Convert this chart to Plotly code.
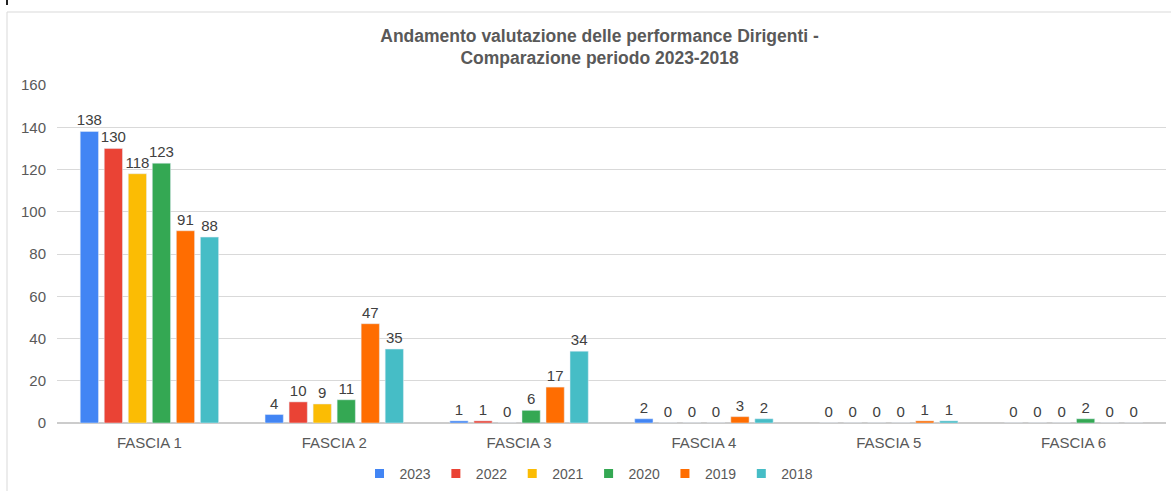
import plotly.graph_objects as go

categories = ["FASCIA 1", "FASCIA 2", "FASCIA 3", "FASCIA 4", "FASCIA 5", "FASCIA 6"]
years = ["2023", "2022", "2021", "2020", "2019", "2018"]
v2023 = [138, 4, 1, 2, 0, 0]
v2022 = [130, 10, 1, 0, 0, 0]
v2021 = [118, 9, 0, 0, 0, 0]
v2020 = [123, 11, 6, 0, 0, 2]
v2019 = [91, 47, 17, 3, 1, 0]
v2018 = [88, 35, 34, 2, 1, 0]
series = [v2023, v2022, v2021, v2020, v2019, v2018]
colors = ["#4285F4", "#EA4335", "#FBBC04", "#34A853", "#FF6D01", "#46BDC6"]
yticks = [0, 20, 40, 60, 80, 100, 120, 140, 160]

FONT = "Liberation Sans, Arial, sans-serif"

fig = go.Figure()
for name, vals, col in zip(years, series, colors):
    fig.add_trace(go.Bar(
        x=categories, y=vals, name=name, marker_color=col,
        text=[str(v) for v in vals], textposition="outside",
        constraintext="none", cliponaxis=False, showlegend=False,
        legendgroup=name,
        textfont=dict(size=15, color="#404040", family=FONT),
    ))
# legend entries with small square swatches
for name, col in zip(years, colors):
    fig.add_trace(go.Scatter(
        x=[None], y=[None], mode="markers", name=name, legendgroup=name,
        marker=dict(symbol="square", size=9, color=col),
    ))

fig.update_layout(
    width=1171, height=491,
    paper_bgcolor="white", plot_bgcolor="white",
    margin=dict(l=57, r=5, t=85, b=68),
    barmode="group", bargap=0.22, bargroupgap=0.24,
    font=dict(family=FONT, color="#595959"),
    title=dict(
        text="<b>Andamento valutazione delle performance Dirigenti -<br>Comparazione periodo 2023-2018</b>",
        x=0.512, xref="container", xanchor="center",
        y=0.915, yref="container", yanchor="top",
        font=dict(size=17.5, color="#595959"),
    ),
    legend=dict(
        orientation="h", x=0.503, xref="container", xanchor="center",
        y=0.035, yref="container", yanchor="middle",
        font=dict(size=14, color="#595959"),
        itemwidth=30, tracegroupgap=0,
    ),
    showlegend=True,
)
fig.update_yaxes(
    range=[0, 160], tickvals=yticks, showgrid=True, gridcolor="#d9d9d9",
    zeroline=True, zerolinecolor="#cccccc", zerolinewidth=1.5,
    tickfont=dict(size=15, color="#595959"), ticks="", ticklabelstandoff=10,
)
fig.update_xaxes(
    tickfont=dict(size=15, color="#595959"), showline=False, ticks="",
    ticklabelstandoff=9,
)
# outer frame (right edge lies outside the picture)
fig.add_shape(type="rect", xref="paper", yref="paper",
              x0=(7 - 57) / 1109, x1=(1180 - 57) / 1109,
              y0=(423 - 495) / 338, y1=(423 - 12) / 338,
              line=dict(color="#d9d9d9", width=1), fillcolor="rgba(0,0,0,0)", layer="below")
fig.add_shape(type="line", xref="paper", yref="paper",
              x0=(7 - 57) / 1109, x1=(7 - 57) / 1109,
              y0=(423 - 5) / 338, y1=(423 + 2) / 338,
              line=dict(color="#222222", width=2))

fig.write_html("out.html", config={"displayModeBar": False},
               post_script="document.body.style.margin='0';")
